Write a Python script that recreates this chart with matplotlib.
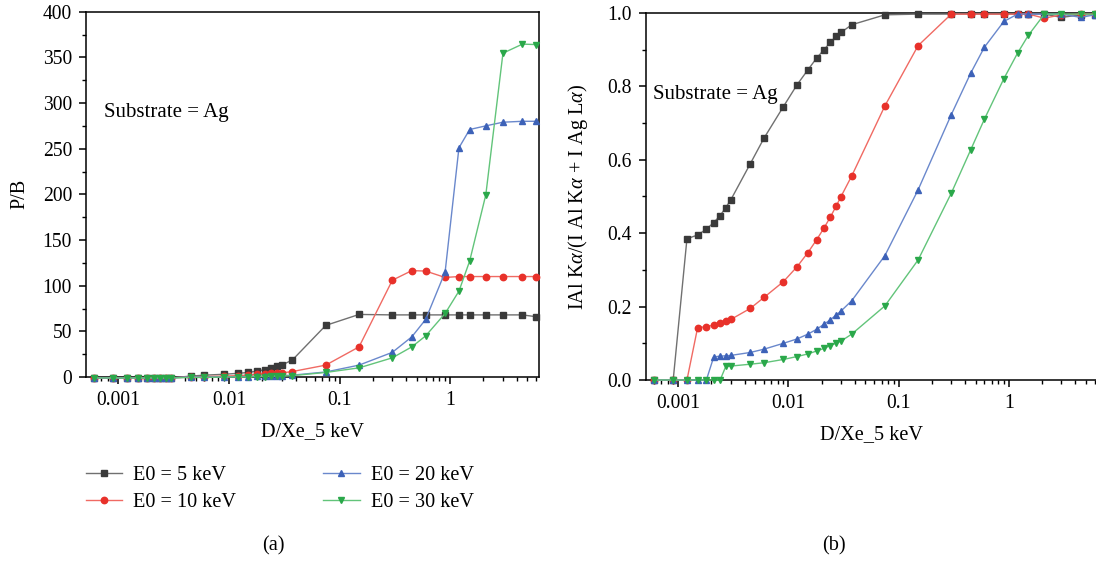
import matplotlib
matplotlib.use("Agg")
import matplotlib.pyplot as plt
from matplotlib.ticker import (FixedLocator, FixedFormatter, MultipleLocator,
                               NullFormatter, LogLocator, FormatStrFormatter)

plt.rcParams['font.family'] = ['Liberation Serif', 'DejaVu Serif']
plt.rcParams['mathtext.fontset'] = 'custom'
plt.rcParams['mathtext.rm'] = 'Liberation Serif'
plt.rcParams['mathtext.it'] = 'Liberation Serif:italic'

FS_TICK = 14.1
FS = 14.6
FS_SUB = 15.0

# ---------------- data ----------------
x = [0.0006, 0.0009, 0.0012, 0.0015, 0.0018, 0.0021, 0.0024, 0.0027, 0.003,
     0.0045, 0.006, 0.009, 0.012, 0.015, 0.018, 0.021, 0.024, 0.027, 0.03,
     0.0375, 0.075, 0.15, 0.3, 0.45, 0.6, 0.9, 1.2, 1.5, 2.1, 3.0, 4.5, 6.0]

labels = ["E0 = 5 keV", "E0 = 10 keV", "E0 = 20 keV", "E0 = 30 keV"]

# P/B (panel a)
pb_5 = [-1, -1, -1, -1, -1, -1, -1, -1, -1,
        1, 2, 3, 4, 5, 6.5, 8, 9.7, 11.5, 13,
        18.7, 56.5, 68.5, 68, 68, 68, 68, 68, 68, 68, 68, 68, 66]
pb_10 = [-1, -1, -1, -1, -1, -1, -1, -1, -1,
         0, 0.5, 1, 1.5, 2, 3, 3.5, 4, 4, 4.5,
         6, 13, 33, 106, 116.5, 116, 109, 110, 110, 110, 110, 110, 110]
pb_20 = [-1, -1, -1, -1, -1, -1, -1, -1, -1,
         0, 0, 0, 0.5, 0.5, 1, 1, 1, 1.5, 1.5,
         2, 5.5, 13, 27, 44, 63, 115, 251, 271, 275, 279, 280, 280]
pb_30 = [-1, -1, -1, -1, -1, -1, -1, -1, -1,
         -0.5, -0.5, 0, 0, 0, 0.5, 0.5, 1, 1, 1,
         1.5, 5, 10, 21, 33, 45, 69.6, 94, 127, 199.6, 354.6, 364.5, 364]

# Intensity ratio (panel b)
r_5 = [0, 0, 0.385, 0.395, 0.411, 0.429, 0.448, 0.47, 0.491,
       0.589, 0.659, 0.745, 0.805, 0.845, 0.877, 0.9, 0.92, 0.936, 0.947,
       0.968, 0.995, 0.997, 0.997, 0.997, 0.997, 0.997, 0.997, 0.997, 0.997, 0.988, 0.995, 0.995]
r_10 = [0, 0, 0, 0.143, 0.145, 0.15, 0.155, 0.161, 0.165,
        0.195, 0.225, 0.268, 0.309, 0.347, 0.382, 0.414, 0.444, 0.473, 0.5,
        0.556, 0.747, 0.911, 0.997, 0.997, 0.997, 0.997, 0.997, 0.997, 0.986, 0.995, 0.997, 0.997]
r_20 = [0, 0, 0, 0, 0, 0.063, 0.065, 0.066, 0.067,
        0.075, 0.084, 0.1, 0.112, 0.125, 0.138, 0.152, 0.164, 0.177, 0.188,
        0.216, 0.339, 0.518, 0.723, 0.836, 0.907, 0.977, 0.997, 0.997, 0.997, 0.997, 0.988, 0.995]
r_30 = [0, 0, 0, 0, 0, 0, 0, 0.037, 0.038,
        0.043, 0.047, 0.056, 0.064, 0.071, 0.079, 0.086, 0.094, 0.1, 0.106,
        0.125, 0.202, 0.327, 0.509, 0.627, 0.711, 0.821, 0.891, 0.939, 0.997, 0.997, 0.997, 0.997]

xtick_vals = [0.001, 0.01, 0.1, 1]
xtick_labels = ["0.001", "0.01", "0.1", "1"]
x_limits = (5.1e-4, 6.3)

colors = ['#3a3a3a', '#e8312a', '#3d62b8', '#2aa84a']
line_colors = ['#707070', '#f06a63', '#6a88cc', '#62c47a']
markers = ['s', 'o', '^', 'v']

W, H = 1096, 561
fig = plt.figure(figsize=(W / 100, H / 100), dpi=100)

def px_axes(l, t, r, b):
    return fig.add_axes([l / W, 1 - b / H, (r - l) / W, (b - t) / H])

axa = px_axes(86, 11.7, 538.6, 377)
axb = px_axes(646, 13, 1097, 380)

handles = []
for i, ys in enumerate([pb_5, pb_10, pb_20, pb_30]):
    h, = axa.plot(x, ys, color=line_colors[i], lw=1.0, marker=markers[i],
                  markersize=4.6, markerfacecolor=colors[i], markeredgecolor=colors[i],
                  clip_on=False, zorder=3, label=labels[i])
    handles.append(h)
for i, ys in enumerate([r_5, r_10, r_20, r_30]):
    axb.plot(x, ys, color=line_colors[i], lw=1.0, marker=markers[i],
             markersize=4.6, markerfacecolor=colors[i], markeredgecolor=colors[i],
             clip_on=False, zorder=3)

for ax in (axa, axb):
    ax.set_xscale('log')
    ax.set_xlim(*x_limits)
    ax.xaxis.set_major_locator(FixedLocator(xtick_vals))
    ax.xaxis.set_major_formatter(FixedFormatter(xtick_labels))
    ax.xaxis.set_minor_locator(LogLocator(base=10, subs=range(2, 10), numticks=20))
    ax.xaxis.set_minor_formatter(NullFormatter())
    ax.tick_params(which='major', direction='out', length=5, width=1.1, pad=5,
                   labelsize=FS_TICK)
    ax.tick_params(which='minor', direction='out', length=2.6, width=1.0)
    for s in ax.spines.values():
        s.set_linewidth(1.1)
    ax.set_xlabel("D/Xe_5 keV", fontsize=FS, va='center')

axa.set_ylim(0, 400)
axa.yaxis.set_major_locator(MultipleLocator(50))
axa.yaxis.set_minor_locator(MultipleLocator(25))
axa.set_ylabel("P/B", fontsize=FS, va='center')
axa.yaxis.set_label_coords(-0.147, 0.5)
axa.xaxis.set_label_coords(0.5, -0.1506)
axa.text(0.039, 0.723, "Substrate = Ag", transform=axa.transAxes, fontsize=FS_SUB,
         ha='left', va='center')

axb.set_ylim(0, 1.0)
axb.yaxis.set_major_locator(MultipleLocator(0.2))
axb.yaxis.set_minor_locator(MultipleLocator(0.1))
axb.yaxis.set_major_formatter(FormatStrFormatter('%.1f'))
axb.set_ylabel(r"IAl K$\alpha$/(I Al K$\alpha$ + I Ag L$\alpha$)", fontsize=FS, va='center')
axb.yaxis.set_label_coords(-0.151, 0.5)
axb.xaxis.set_label_coords(0.5, -0.150)
axb.text(0.0155, 0.777, "Substrate = Ag", transform=axb.transAxes, fontsize=FS_SUB,
         ha='left', va='center')

fig.legend(handles=handles, labels=labels, loc='upper left',
           bbox_to_anchor=(86 / W, 1 - 466 / H), ncol=2, frameon=False,
           fontsize=FS, handlelength=1.78, handletextpad=0.55,
           columnspacing=4.3, labelspacing=0.38, borderpad=0, borderaxespad=0)

fig.text(273 / W, 1 - 546 / H, "(a)", fontsize=FS, ha='center', va='center')
fig.text(833.5 / W, 1 - 545.7 / H, "(b)", fontsize=FS, ha='center', va='center')

fig.savefig("out.png", dpi=100)
